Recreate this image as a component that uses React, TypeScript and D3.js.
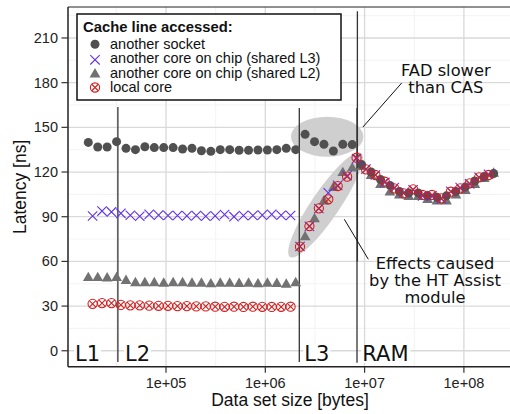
import React from "react";
import * as d3 from "d3";

// x grid of the "another socket" and "shared L2" series (bytes)
const sizesA = [16503, 20535, 25552, 31794, 39562, 49227, 61253, 76218, 94838, 118008, 146837, 182710, 227347, 282889, 352000, 438000, 545000, 678200, 843900, 1050000, 1306600, 1625800, 2023000, 2517000, 3132000, 3897000, 4849000, 6034000, 7508000, 9342000, 11624000, 14464000, 17998000, 22395000, 27866000, 34674000, 43145000, 53685000, 66800000, 83120000, 103430000, 128700000, 160140000, 199270000];
// x grid of the "shared L3" and "local core" series (bytes)
const sizesB = [18235, 22690, 28233, 35131, 43714, 54394, 67683, 84218, 104793, 130395, 162251, 201890, 251213, 312587, 388956, 483980, 602220, 749350, 932420, 1160200, 1443700, 1796400, 2235300, 2781400, 3460900, 4306400, 5358500, 6667600, 8296500, 10323400, 12845000, 15983000, 19888000, 24747000, 30793000, 38316000, 47677000, 59325000, 73818000, 91852000, 114290000, 142210000, 176960000];

const socketNs = [139.9, 136.8, 136.8, 140.4, 135.9, 135.0, 137.0, 136.4, 136.4, 136.4, 135.5, 135.9, 134.3, 133.9, 135.0, 135.0, 134.6, 134.6, 134.8, 134.8, 135.0, 135.9, 135.0,
  145.3, 140.4, 138.6, 134.1, 138.6, 138.4,
  125, 120, 115, 111, 107, 106, 106, 104, 103, 104, 107, 110, 114, 117, 119];
const sharedL2Ns = [49.5, 49.5, 49.3, 49.5, 47.5, 46.1, 46.0, 46.0, 45.7, 46.1, 46.0, 45.7, 45.7, 45.3, 45.7, 45.7, 45.5, 45.7, 45.3, 45.7, 45.5, 45.0, 46.0,
  77, 89, 101, 110, 120, 123,
  124, 118, 112, 107, 105, 104, 104, 102, 101, 101, 105, 108, 112, 116, 119.5];
const sharedL3Ns = [90.5, 93.8, 93.2, 92.3, 91.0, 90.3, 91.6, 91.1, 90.8, 90.8, 90.6, 90.8, 90.3, 90.6, 91.5, 90.0, 90.8, 90.8, 91.1, 91.6, 91.0, 90.8,
  70, 83.5, 95.5, 106, 111, 117.5, 129,
  122, 118, 113, 109.5, 106, 108, 104, 104, 102, 107, 109.5, 112, 116.5, 118.5];
const localNs = [31.5, 32, 32, 30.8, 30.5, 30.5, 30.3, 30.2, 30.2, 30.0, 30.0, 29.8, 29.8, 29.6, 29.5, 29.6, 29.4, 29.6, 29.5, 29.4, 29.5, 29.6,
  69.9, 83.7, 95.6, 101.7, 110.6, 116.9, 129.6,
  121.8, 118, 113.5, 109, 105.7, 108.4, 104.6, 104.6, 102.3, 106.8, 109, 112.4, 116.4, 118];

const yTicks = [0, 30, 60, 90, 120, 150, 180, 210];
const yMinor = [15, 45, 75, 105, 135, 165, 195, 225];
const xTicks = [1e5, 1e6, 1e7, 1e8];
const xTickLabels = ["1e+05", "1e+06", "1e+07", "1e+08"];
const xMinor = [Math.pow(10, 4.5), Math.pow(10, 5.5), Math.pow(10, 6.5), Math.pow(10, 7.5)];

const legendLabels = ["another socket", "another core on chip (shared L3)", "another core on chip (shared L2)", "local core"];

// boundaries: [size, yTop, yBottom]
const boundaries: [number, number, number][] = [
  [32768, 163.7, -7.5],
  [2200000, 163, -7.5],
  [8386000, 163, -8],
  [8460000, 228, 60],
];
const regionLabels: [string, number][] = [["L1", 12120], ["L2", 38650], ["L3", 2470000], ["RAM", 9480000]];

const W = 510, H = 414;
const M = { left: 68, top: 7, right: 515, bottom: 366.7 };

const BLUE = "#6233e6";
const RED = "#d11f1f";
const DARK = "#505050";
const TRI = "#727272";
const SANS = "'Liberation Sans', Arial, Helvetica, sans-serif";
const DJ = "'DejaVu Sans', sans-serif";

function Cross({ x, y }: { x: number; y: number }) {
  const s = 4.7;
  return <path d={`M${x - s},${y - s}L${x + s},${y + s}M${x - s},${y + s}L${x + s},${y - s}`} stroke={BLUE} strokeWidth={1.1} fill="none" />;
}
function CircX({ x, y }: { x: number; y: number }) {
  const r = 4.6, s = 3.25;
  return (
    <g stroke={RED} strokeWidth={1.1} fill="none">
      <circle cx={x} cy={y} r={r} />
      <path d={`M${x - s},${y - s}L${x + s},${y + s}M${x - s},${y + s}L${x + s},${y - s}`} />
    </g>
  );
}
function Tri({ x, y }: { x: number; y: number }) {
  const s = 5.4;
  return <path d={`M${x},${y - s}L${x + s},${y + s * 0.75}L${x - s},${y + s * 0.75}Z`} fill={TRI} />;
}
function Dot({ x, y }: { x: number; y: number }) {
  return <circle cx={x} cy={y} r={4.5} fill={DARK} />;
}

export default function App() {
  const x = d3.scaleLog().domain([Math.pow(10, 4.01309), Math.pow(10, 8.5146)]).range([M.left, M.right]);
  const y = d3.scaleLinear().domain([-10.7, 230.8]).range([M.bottom, M.top]);

  const ell1 = { cx: x(4.2e6), cy: y(143.7) };
  const ell2 = { cx: x(4.04e6), cy: y(97.9) };

  return (
    <svg width={W} height={H} style={{ position: "absolute", left: 0, top: 0, background: "#fff" }}>
      <defs>
        <clipPath id="panel">
          <rect x={M.left} y={M.top} width={M.right - M.left} height={M.bottom - M.top} />
        </clipPath>
      </defs>
      <rect x={0} y={0} width={W} height={H} fill="#fff" />
      <g clipPath="url(#panel)">
        {yMinor.map((v) => <line key={"ym" + v} x1={M.left} x2={M.right} y1={y(v)} y2={y(v)} stroke="#f0f0f0" strokeWidth={0.8} />)}
        {xMinor.map((v) => <line key={"xm" + v} y1={M.top} y2={M.bottom} x1={x(v)} x2={x(v)} stroke="#f0f0f0" strokeWidth={0.8} />)}
        {yTicks.map((v) => <line key={"yg" + v} x1={M.left} x2={M.right} y1={y(v)} y2={y(v)} stroke="#d9d9d9" strokeWidth={1.3} />)}
        {xTicks.map((v) => <line key={"xg" + v} y1={M.top} y2={M.bottom} x1={x(v)} x2={x(v)} stroke="#d9d9d9" strokeWidth={1.3} />)}

        <ellipse cx={ell1.cx} cy={ell1.cy} rx={36.2} ry={20} fill="#cfcfcf" />
        <ellipse cx={ell2.cx} cy={ell2.cy} rx={63} ry={14} fill="#cfcfcf" transform={`rotate(-55.7 ${ell2.cx} ${ell2.cy})`} />

        {boundaries.map(([s, a, b], i) => (
          <line key={"b" + i} x1={x(s)} x2={x(s)} y1={y(a)} y2={y(b)} stroke="#333" strokeWidth={1.3} />
        ))}

        {sizesA.map((s, i) => <Tri key={"t" + i} x={x(s)} y={y(sharedL2Ns[i])} />)}
        {sizesA.map((s, i) => <Dot key={"d" + i} x={x(s)} y={y(socketNs[i])} />)}
        {sizesB.map((s, i) => <Cross key={"c" + i} x={x(s)} y={y(sharedL3Ns[i])} />)}
        {sizesB.map((s, i) => <CircX key={"r" + i} x={x(s)} y={y(localNs[i])} />)}

        {regionLabels.map(([t, s]) => {
          const w = t === "RAM" ? 47 : 25;
          return (
            <g key={t}>
              <rect x={x(s) - 1} y={y(-6.7) - 16} width={w + 2} height={18} fill="#fff" />
              <text x={x(s)} y={y(-6.7)} fontFamily={DJ} fontSize={21} fill="#111">{t}</text>
            </g>
          );
        })}

        <line x1={x(9.614e6)} y1={y(150.2)} x2={x(2.364e7)} y2={y(179.8)} stroke="#111" strokeWidth={1} />
        <line x1={x(6.245e6)} y1={y(88.3)} x2={x(1.09e7)} y2={y(61.4)} stroke="#111" strokeWidth={1} />
        <text x={x(6.57e7)} textAnchor="middle" fontFamily={DJ} fontSize={16.3} fill="#111">
          <tspan x={x(6.57e7)} y={y(184.5)}>FAD slower</tspan>
          <tspan x={x(6.57e7)} y={y(173.3)}>than CAS</tspan>
        </text>
        <text textAnchor="middle" fontFamily={DJ} fontSize={16.3} fill="#111">
          <tspan x={x(5.117e7)} y={y(54.7)}>Effects caused</tspan>
          <tspan x={x(5.117e7)} y={y(43.5)}>by the HT Assist</tspan>
          <tspan x={x(5.117e7)} y={y(32.3)}>module</tspan>
        </text>
      </g>

      {/* panel border */}
      <line x1={M.left} x2={M.right} y1={M.top} y2={M.top} stroke="#222" strokeWidth={1.2} />
      <line x1={M.left} x2={M.left} y1={M.top} y2={M.bottom} stroke="#222" strokeWidth={1.5} />
      <line x1={M.left} x2={M.right} y1={M.bottom} y2={M.bottom} stroke="#222" strokeWidth={1.5} />

      {yTicks.map((v) => (
        <g key={"yt" + v}>
          <line x1={M.left - 6.5} x2={M.left} y1={y(v)} y2={y(v)} stroke="#333" strokeWidth={1.2} />
          <text x={M.left - 10} y={y(v) + 5} textAnchor="end" fontFamily={SANS} fontSize={14.5} fill="#222">{v}</text>
        </g>
      ))}
      {xTicks.map((v, i) => (
        <g key={"xt" + v}>
          <line x1={x(v)} x2={x(v)} y1={M.bottom} y2={M.bottom + 6} stroke="#333" strokeWidth={1.2} />
          <text x={x(v)} y={388} textAnchor="middle" fontFamily={SANS} fontSize={14.5} fill="#222">{xTickLabels[i]}</text>
        </g>
      ))}

      <text x={290} y={406} textAnchor="middle" fontFamily={SANS} fontSize={17.5} fill="#111">Data set size [bytes]</text>
      <text transform={`translate(26,${(M.top + M.bottom) / 2}) rotate(-90)`} textAnchor="middle" fontFamily={SANS} fontSize={17.5} fill="#111">Latency [ns]</text>

      {/* legend */}
      <g>
        <rect x={77} y={14} width={264} height={86} fill="#fff" stroke="#111" strokeWidth={1.5} />
        <text x={83} y={31.5} fontFamily={SANS} fontWeight="bold" fontSize={14.8} fill="#111">Cache line accessed:</text>
        <Dot x={95} y={44.3} />
        <Cross x={95} y={59.8} />
        <Tri x={95} y={73.5} />
        <CircX x={95} y={87.5} />
        {legendLabels.map((t, i) => (
          <text key={t} x={110} y={49 + i * 14.3} fontFamily={SANS} fontSize={14.5} fill="#111">{t}</text>
        ))}
      </g>
    </svg>
  );
}
